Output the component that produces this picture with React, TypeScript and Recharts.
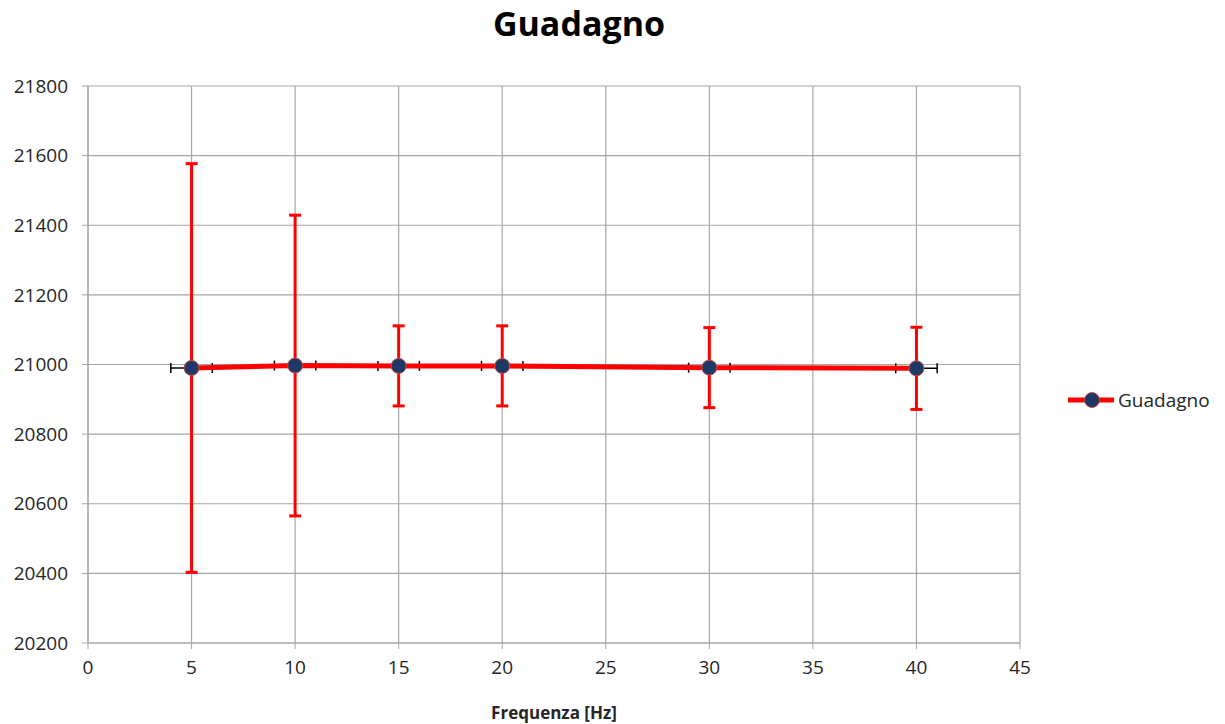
import {
  ComposedChart,
  Scatter,
  ErrorBar,
  XAxis,
  YAxis,
  CartesianGrid,
} from 'recharts';

const freq = [5, 10, 15, 20, 30, 40];
const gain = [20990, 20997, 20996, 20996, 20991, 20989];
const gainErr = [587, 432, 115, 115, 115, 118];
const freqErr = [1, 1, 1, 1, 1, 1];

const xTicks = [0, 5, 10, 15, 20, 25, 30, 35, 40, 45];
const yTicks = [20200, 20400, 20600, 20800, 21000, 21200, 21400, 21600, 21800];

const FONT = '"Open Sans", "Liberation Sans", sans-serif';

const chartData = freq.map((f, i) => ({
  freq: f,
  gain: gain[i],
  gainErr: gainErr[i],
  freqErr: freqErr[i],
}));

function Marker(props: any) {
  const { cx, cy } = props;
  return <circle cx={cx} cy={cy} r={7.5} fill="#1f3864" stroke="#c0504d" strokeWidth={1} />;
}

export default function App() {
  return (
    <div style={{ position: 'absolute', left: 0, top: 0, width: 1225, height: 724, background: '#fff', fontFamily: FONT }}>
      <div
        style={{
          position: 'absolute',
          left: 0,
          width: 1158,
          top: 0,
          textAlign: 'center',
          fontSize: 34,
          fontWeight: 700,
          color: '#000',
        }}
      >
        Guadagno
      </div>

      <ComposedChart
        width={1225}
        height={724}
        data={chartData}
        margin={{ top: 86, right: 205, bottom: 1, left: 0 }}
      >
        <CartesianGrid stroke="#a6a6a6" strokeWidth={1.2} />
        <XAxis
          type="number"
          dataKey="freq"
          domain={[0, 45]}
          ticks={xTicks}
          interval={0}
          height={80}
          tickSize={6}
          tickMargin={12}
          stroke="#a6a6a6"
          tick={{ fill: '#262626', fontSize: 19, fontFamily: FONT }}
          label={{
            value: 'Frequenza [Hz]',
            position: 'insideBottom',
            offset: 4,
            fill: '#262626',
            fontSize: 17,
            fontWeight: 700,
            fontFamily: FONT,
          }}
        />
        <YAxis
          type="number"
          dataKey="gain"
          domain={[20200, 21800]}
          ticks={yTicks}
          interval={0}
          width={88}
          tickSize={6}
          tickMargin={14}
          stroke="#a6a6a6"
          tick={{ fill: '#262626', fontSize: 19, fontFamily: FONT }}
        />
        {/* horizontal error bars, drawn beneath the red line */}
        <Scatter
          data={chartData}
          dataKey="gain"
          isAnimationActive={false}
          shape={() => <g />}
          legendType="none"
        >
          <ErrorBar dataKey="freqErr" direction="x" stroke="#000" strokeWidth={1.5} width={5} />
        </Scatter>
        <Scatter
          data={chartData}
          dataKey="gain"
          name="Guadagno"
          isAnimationActive={false}
          line={{ stroke: '#ff0000', strokeWidth: 5 }}
          shape={<Marker />}
        >
          <ErrorBar dataKey="gainErr" direction="y" stroke="#ff0000" strokeWidth={3} width={6} />
        </Scatter>
      </ComposedChart>

      <div
        style={{
          position: 'absolute',
          left: 1068,
          top: 386,
          display: 'flex',
          alignItems: 'center',
          fontSize: 19,
          color: '#262626',
        }}
      >
        <svg width={48} height={28}>
          <line x1={0} y1={14} x2={46} y2={14} stroke="#ff0000" strokeWidth={5} />
          <circle cx={24} cy={14} r={7.5} fill="#1f3864" stroke="#c0504d" strokeWidth={1} />
        </svg>
        <span style={{ marginLeft: 2 }}>Guadagno</span>
      </div>
    </div>
  );
}
